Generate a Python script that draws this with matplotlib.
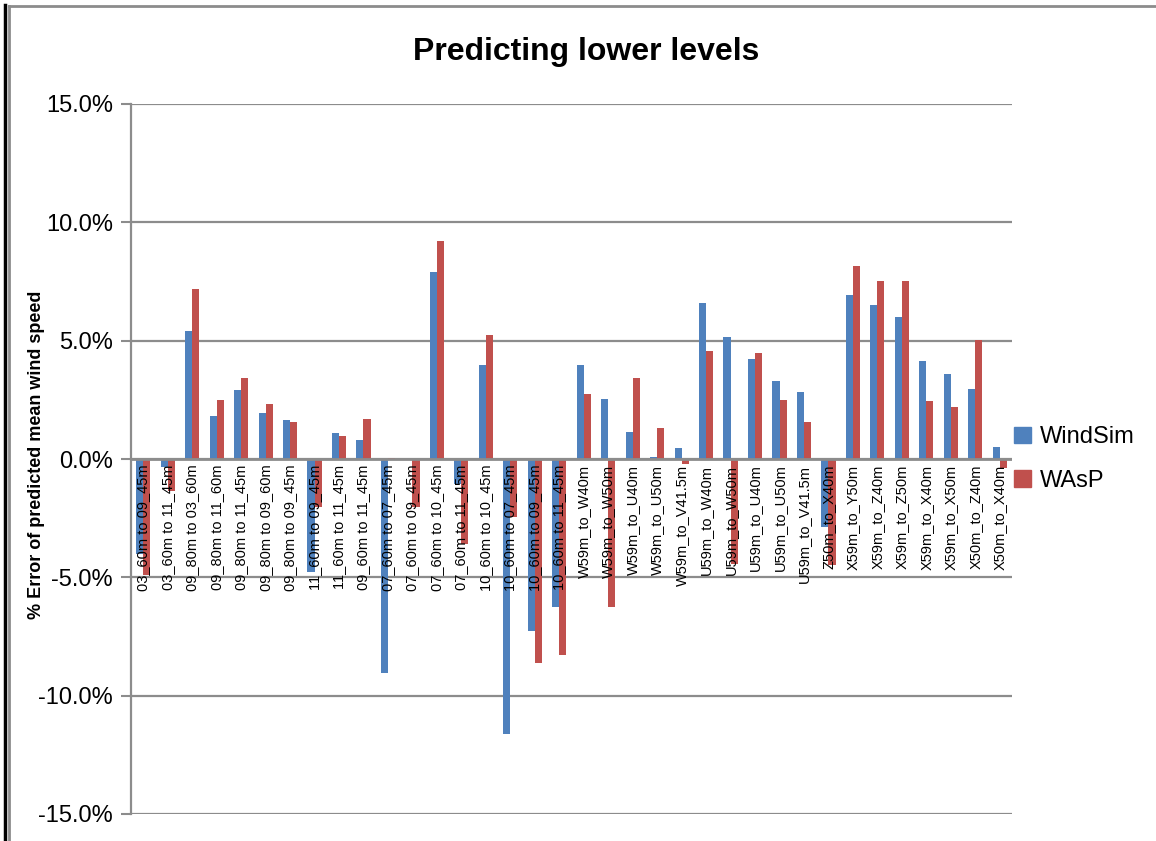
import numpy as np
import matplotlib
matplotlib.use("Agg")
import matplotlib.pyplot as plt
from matplotlib.lines import Line2D
from matplotlib.patches import Patch
from matplotlib.ticker import FuncFormatter

plt.rcParams["font.family"] = ["Liberation Sans", "DejaVu Sans"]

# Data (% error of predicted mean wind speed)

categories = [
    "03_60m to 09_45m", "03_60m to 11_45m", "09_80m to 03_60m", "09_80m to 11_60m",
    "09_80m to 11_45m", "09_80m to 09_60m", "09_80m to 09_45m", "11_60m to 09_45m",
    "11_60m to 11_45m", "09_60m to 11_45m", "07_60m to 07_45m", "07_60m to 09_45m",
    "07_60m to 10_45m", "07_60m to 11_45m", "10_60m to 10_45m", "10_60m to 07_45m",
    "10_60m to 09_45m", "10_60m to 11_45m", "W59m_to_W40m", "W59m_to_W50m",
    "W59m_to_U40m", "W59m_to_U50m", "W59m_to_V41.5m", "U59m_to_W40m",
    "U59m_to_W50m", "U59m_to_U40m", "U59m_to_U50m", "U59m_to_V41.5m",
    "Z50m_to_X40m", "X59m_to_Y50m", "X59m_to_Z40m", "X59m_to_Z50m",
    "X59m_to_X40m", "X59m_to_X50m", "X50m_to_Z40m", "X50m_to_X40m",
]

windsim = [
    -4.0, -0.35, 5.4, 1.82, 2.92, 1.94, 1.65, -4.78,
    1.10, 0.80, -9.05, -0.06, 7.90, -1.05, 3.97, -11.6,
    -7.27, -6.24, 3.97, 2.54, 1.14, 0.08, 0.47, 6.60,
    5.16, 4.23, 3.30, 2.83, -2.88, 6.94, 6.50, 6.00,
    4.14, 3.60, 2.96, 0.51,
]

wasp = [
    -4.9, -1.35, 7.2, 2.50, 3.42, 2.33, 1.56, -2.03,
    0.98, 1.69, 0.05, -2.03, 9.20, -3.60, 5.24, -2.45,
    -8.63, -8.29, 2.75, -6.24, 3.42, 1.31, -0.22, 4.56,
    -4.44, 4.50, 2.50, 1.56, -4.48, 8.15, 7.53, 7.52,
    2.45, 2.20, 5.03, -0.38,
]

BLUE = "#4F81BD"
RED = "#C0504D"
GRID = "#8C8C8C"

# Figure

W, H = 1156, 841
fig = plt.figure(figsize=(W / 100, H / 100), dpi=100)
ax = fig.add_axes([131 / W, 1 - 814 / H, (1012 - 131) / W, (814 - 104) / H])

x = np.arange(len(categories))
bw = 0.29
ax.bar(x - bw / 2, windsim, width=bw, color=BLUE, zorder=2, label="WindSim")
ax.bar(x + bw / 2, wasp, width=bw, color=RED, zorder=2, label="WAsP")

ax.set_xlim(-0.5, len(categories) - 0.5)
ax.set_ylim(-15, 15)
ax.set_yticks(np.arange(-15, 16, 5))
ax.yaxis.set_major_formatter(FuncFormatter(lambda v, _: f"{v:.1f}%"))
ax.tick_params(axis="y", direction="out", length=7, width=1.5, color=GRID,
               labelsize=17, pad=6)
ax.set_xticks([])
ax.grid(axis="y", color=GRID, lw=1.6, zorder=0)
ax.set_axisbelow(True)
for s in ["top", "right", "bottom"]:
    ax.spines[s].set_visible(False)
ax.spines["left"].set_color(GRID)
ax.spines["left"].set_linewidth(1.6)
ax.axhline(0, color=GRID, lw=2, zorder=3)

# category labels sit right below the zero line, over the bars
for i, lab in enumerate(categories):
    ax.annotate(lab, xy=(i, 0), xytext=(0, -4), textcoords="offset points",
                rotation=90, ha="center", va="top", fontsize=10.5, zorder=5)

fig.text(37 / W, 1 - 455 / H, "% Error of predicted mean wind speed", rotation=90,
         ha="center", va="center", fontsize=13, fontweight="bold")

fig.text(586 / W, 1 - 52 / H, "Predicting lower levels", ha="center", va="center",
         fontsize=23, fontweight="bold")

handles = [Patch(color=BLUE, label="WindSim"), Patch(color=RED, label="WAsP")]
fig.legend(handles=handles, loc="center left", bbox_to_anchor=(993 / W, 1 - 459 / H),
           frameon=False, fontsize=17, handlelength=0.7, handleheight=0.7,
           handletextpad=0.4, labelspacing=0.9)

# outer chart frame (partly cropped in the original)
fig.add_artist(Line2D([5 / W, 5 / W], [0, 1 - 5 / H], color="black", lw=2.5))
fig.add_artist(Line2D([9 / W, 9 / W], [0, 1 - 6 / H], color=GRID, lw=2))
fig.add_artist(Line2D([9 / W, 1], [1 - 6 / H, 1 - 6 / H], color=GRID, lw=2))

fig.savefig("out.png", dpi=100)
